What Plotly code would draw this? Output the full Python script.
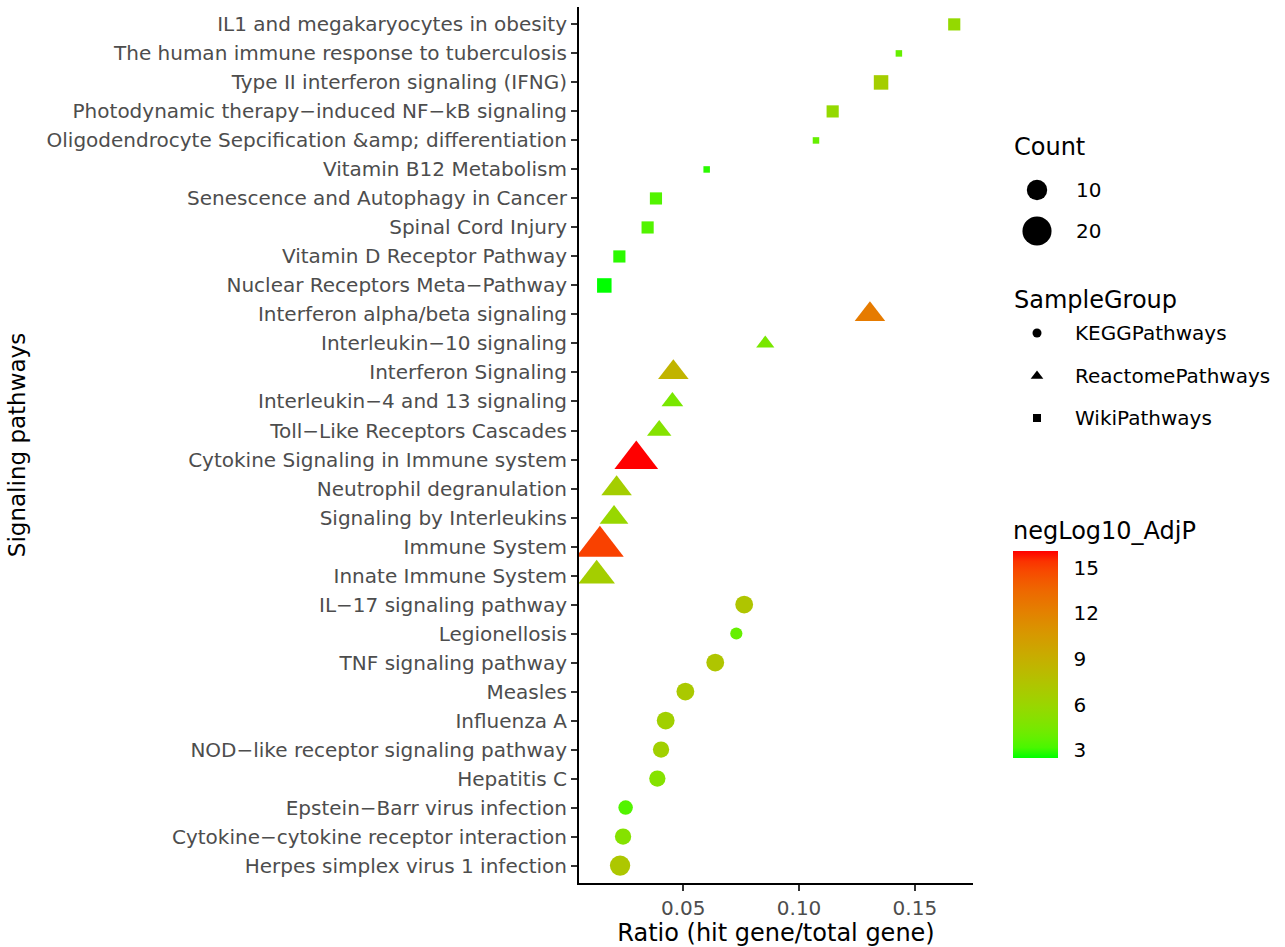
import numpy as np
import plotly.graph_objects as go

# ---------------- data (top row first) ----------------
pathways = [
    "IL1 and megakaryocytes in obesity",
    "The human immune response to tuberculosis",
    "Type II interferon signaling (IFNG)",
    "Photodynamic therapy−induced NF−kB signaling",
    "Oligodendrocyte Sepcification &amp; differentiation",
    "Vitamin B12 Metabolism",
    "Senescence and Autophagy in Cancer",
    "Spinal Cord Injury",
    "Vitamin D Receptor Pathway",
    "Nuclear Receptors Meta−Pathway",
    "Interferon alpha/beta signaling",
    "Interleukin−10 signaling",
    "Interferon Signaling",
    "Interleukin−4 and 13 signaling",
    "Toll−Like Receptors Cascades",
    "Cytokine Signaling in Immune system",
    "Neutrophil degranulation",
    "Signaling by Interleukins",
    "Immune System",
    "Innate Immune System",
    "IL−17 signaling pathway",
    "Legionellosis",
    "TNF signaling pathway",
    "Measles",
    "Influenza A",
    "NOD−like receptor signaling pathway",
    "Hepatitis C",
    "Epstein−Barr virus infection",
    "Cytokine−cytokine receptor interaction",
    "Herpes simplex virus 1 infection",
]
sample_group = (["WikiPathways"] * 10 + ["ReactomePathways"] * 10 + ["KEGGPathways"] * 10)
ratio = [0.167, 0.1431, 0.1354, 0.1145, 0.1073, 0.0601, 0.0382, 0.0346, 0.0224, 0.0159,
         0.1306, 0.0854, 0.0457, 0.0453, 0.0396, 0.0297, 0.0212, 0.0201, 0.0140, 0.0126,
         0.0763, 0.0729, 0.0638, 0.0509, 0.0424, 0.0404, 0.0388, 0.0251, 0.0240, 0.0227]
count = [5, 4, 6, 5, 4, 4, 5, 5, 5, 6,
         10, 5, 10, 6, 7, 20, 10, 9, 24, 14,
         8, 5, 8, 8, 8, 7, 7, 6, 7, 10]
neglog10_adjp = [5.7, 3.9, 6.6, 5.7, 3.9, 2.9, 3.4, 3.4, 2.9, 2.5,
                 12.4, 4.5, 8.6, 4.5, 5.0, 16.1, 6.6, 5.9, 15.0, 6.6,
                 7.3, 3.9, 7.3, 7.0, 6.4, 6.4, 5.0, 3.4, 5.0, 7.2]
group_order = ["KEGGPathways", "ReactomePathways", "WikiPathways"]
count_breaks = [10, 20]
color_ticks = [3, 6, 9, 12, 15]
x_ticks = [0.05, 0.10, 0.15]

# ---------------- styling helpers ----------------
W, H = 1285, 947
FONT = "DejaVu Sans"


def px_x(p):
    return p / W


def px_y(p):
    return 1 - p / H


def _lin(c):
    c = np.asarray(c, float)
    return np.where(c <= 0.04045, c / 12.92, ((c + 0.055) / 1.055) ** 2.4)


def _gam(c):
    c = np.clip(c, 0, 1)
    return np.where(c <= 0.0031308, 12.92 * c, 1.055 * c ** (1 / 2.4) - 0.055)


M = np.array([[0.4124, 0.3576, 0.1805], [0.2126, 0.7152, 0.0722], [0.0193, 0.1192, 0.9505]])
WHITE = np.array([0.95047, 1.0, 1.08883])


def rgb2lab(rgb):
    xyz = M @ _lin(np.array(rgb) / 255.0) / WHITE
    f = np.where(xyz > (6 / 29) ** 3, np.cbrt(xyz), xyz / (3 * (6 / 29) ** 2) + 4 / 29)
    return np.array([116 * f[1] - 16, 500 * (f[0] - f[1]), 200 * (f[1] - f[2])])


def lab2rgb(lab):
    L, a, b = lab
    fy = (L + 16) / 116
    f = np.array([fy + a / 500, fy, fy - b / 200])
    xyz = np.where(f > 6 / 29, f ** 3, 3 * (6 / 29) ** 2 * (f - 4 / 29)) * WHITE
    rgb = _gam(np.linalg.inv(M) @ xyz)
    return "rgb(%d,%d,%d)" % tuple(np.round(rgb * 255).astype(int))


lab_lo, lab_hi = rgb2lab([0, 255, 0]), rgb2lab([255, 0, 0])
colorscale = [[t, lab2rgb(lab_lo + (lab_hi - lab_lo) * t)] for t in np.linspace(0, 1, 21)]

cmin_c, cmax_c = min(count), max(count)


def marker_px(c):
    t = (np.asarray(c, float) - cmin_c) / (cmax_c - cmin_c)
    return 6.5 + 25.3 * np.sqrt(np.clip(t, 0, None))


symbol_map = {"KEGGPathways": "circle", "ReactomePathways": "triangle-up", "WikiPathways": "square"}
symbol_scale = {"KEGGPathways": 1.0, "ReactomePathways": 1.3, "WikiPathways": 1.0}

fig = go.Figure()

for g in group_order:
    idx = [i for i, s in enumerate(sample_group) if s == g]
    fig.add_trace(go.Scatter(
        x=[ratio[i] for i in idx],
        y=[pathways[i] for i in idx],
        mode="markers",
        name=g,
        showlegend=False,
        marker=dict(
            symbol=symbol_map[g],
            size=list(marker_px([count[i] for i in idx]) * symbol_scale[g]),
            color=[neglog10_adjp[i] for i in idx],
            coloraxis="coloraxis",
            opacity=1,
            line=dict(width=0),
        ),
        customdata=[[count[i], neglog10_adjp[i]] for i in idx],
        hovertemplate="%{y}<br>Ratio=%{x}<br>Count=%{customdata[0]}<br>negLog10_AdjP=%{customdata[1]}<extra>" + g + "</extra>",
    ))

# ---------------- legend keys (overlay pixel axes) ----------------
LX = 1037
fig.add_trace(go.Scatter(
    x=[LX] * len(count_breaks), y=[190, 231], xaxis="x2", yaxis="y2",
    mode="markers", showlegend=False, hoverinfo="skip",
    marker=dict(symbol="circle", color="black", opacity=1,
                size=list(marker_px(count_breaks)), line=dict(width=0)),
))
fig.add_trace(go.Scatter(
    x=[LX] * 3, y=[333, 376, 418], xaxis="x2", yaxis="y2",
    mode="markers", showlegend=False, hoverinfo="skip",
    marker=dict(symbol=[symbol_map[g] for g in group_order], color="black", opacity=1,
                size=[9, 11, 8], line=dict(width=0)),
))

annotations = []


def add_text(text, x, y, size, color="black"):
    annotations.append(dict(text=text, x=px_x(x), y=px_y(y), xref="paper", yref="paper",
                            xanchor="left", yanchor="middle", showarrow=False,
                            font=dict(family=FONT, size=size, color=color)))


add_text("Count", 1012, 147, 24)
for b, yy in zip(count_breaks, [190, 231]):
    add_text(str(b), 1074, yy, 20)
add_text("SampleGroup", 1012, 300, 24)
for g, yy in zip(group_order, [333, 376, 418]):
    add_text(g, 1073, yy, 20)

escaped = [p.replace("&", "&amp;") for p in pathways]

fig.update_layout(
    width=W, height=H,
    margin=dict(l=0, r=0, t=0, b=0),
    paper_bgcolor="white",
    plot_bgcolor="rgba(0,0,0,0)",
    font=dict(family=FONT, color="black"),
    showlegend=False,
    annotations=annotations,
    coloraxis=dict(
        colorscale=colorscale,
        colorbar=dict(
            title=dict(text="negLog10_AdjP", side="top", font=dict(family=FONT, size=24, color="black")),
            x=px_x(1013), xanchor="left", xpad=0,
            y=px_y(758), yanchor="bottom", ypad=0,
            len=240, lenmode="pixels",
            thickness=45, thicknessmode="pixels",
            outlinewidth=0,
            tickvals=color_ticks,
            ticks="outside", ticklen=12, tickwidth=1, tickcolor="white",
            tickfont=dict(family=FONT, size=20, color="black"),
        ),
    ),
    xaxis=dict(
        domain=[px_x(579), px_x(973)],
        range=[0.00497, 0.1751],
        tickvals=x_ticks,
        ticktext=["%.2f" % v for v in x_ticks],
        showgrid=False, zeroline=False,
        showline=True, linecolor="black", linewidth=2,
        ticks="outside", ticklen=6, tickwidth=2, tickcolor="#333333",
        tickfont=dict(family=FONT, size=20, color="#4D4D4D"),
        title=dict(text="Ratio (hit gene/total gene)", font=dict(family=FONT, size=24, color="black"), standoff=6),
        automargin=False,
        anchor="y",
    ),
    yaxis=dict(
        domain=[px_y(883), px_y(7)],
        type="category",
        categoryorder="array",
        categoryarray=pathways[::-1],
        tickvals=pathways,
        ticktext=escaped,
        range=[-0.6, len(pathways) - 0.4],
        showgrid=False, zeroline=False,
        showline=True, linecolor="black", linewidth=2,
        ticks="outside", ticklen=6, tickwidth=2, tickcolor="#333333",
        tickfont=dict(family=FONT, size=20, color="#4D4D4D"),
        title=dict(text="Signaling pathways", font=dict(family=FONT, size=23, color="black"), standoff=14),
        automargin=False,
        anchor="x",
    ),
    xaxis2=dict(domain=[0, 1], range=[0, W], visible=False, fixedrange=True, anchor="y2"),
    yaxis2=dict(domain=[0, 1], range=[H, 0], visible=False, fixedrange=True, anchor="x2"),
)

fig.write_html("out.html", config={"displayModeBar": False},
               post_script="document.body.style.margin='0px';")
